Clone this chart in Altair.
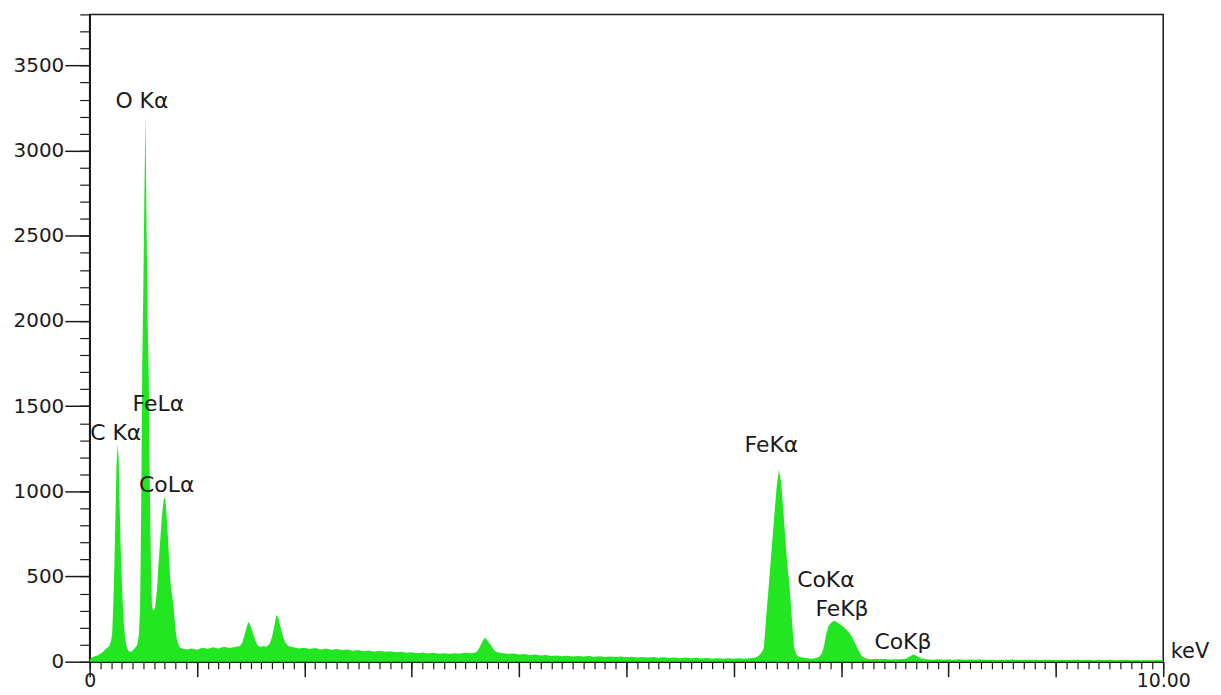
import altair as alt
import pandas as pd

# ---- spectrum (energy in keV, counts) ----
energy = [
    0.00, 0.01, 0.02, 0.03, 0.04, 0.05, 0.06, 0.07, 0.08, 0.09,
    0.10, 0.11, 0.12, 0.13, 0.14, 0.15, 0.16, 0.17, 0.18, 0.19,
    0.20, 0.21, 0.22, 0.23, 0.24, 0.25, 0.26, 0.27, 0.28, 0.29,
    0.30, 0.31, 0.32, 0.33, 0.34, 0.35, 0.36, 0.37, 0.38, 0.39,
    0.40, 0.41, 0.42, 0.43, 0.44, 0.45, 0.46, 0.47, 0.48, 0.49,
    0.50, 0.51, 0.52, 0.53, 0.54, 0.55, 0.56, 0.57, 0.58, 0.59,
    0.60, 0.61, 0.62, 0.63, 0.64, 0.65, 0.66, 0.67, 0.68, 0.69,
    0.70, 0.71, 0.72, 0.73, 0.74, 0.75, 0.76, 0.77, 0.78, 0.79,
    0.80, 0.81, 0.82, 0.83, 0.84, 0.85,
    0.90, 0.95, 1.00, 1.05, 1.10, 1.15, 1.20, 1.25, 1.30, 1.35,
    1.40, 1.42, 1.44, 1.46, 1.48, 1.50, 1.52, 1.54, 1.56, 1.58,
    1.60, 1.62, 1.64, 1.66, 1.68, 1.70, 1.72, 1.74, 1.76, 1.78,
    1.80, 1.82, 1.84, 1.86,
    1.90, 1.95, 2.00, 2.05, 2.10, 2.15, 2.20, 2.25, 2.30, 2.35,
    2.40, 2.45, 2.50, 2.55, 2.60, 2.65, 2.70, 2.75, 2.80, 2.85,
    2.90, 2.95, 3.00, 3.05, 3.10, 3.15, 3.20, 3.25, 3.30, 3.35,
    3.40, 3.45, 3.50, 3.55,
    3.60, 3.62, 3.64, 3.66, 3.68, 3.70, 3.72, 3.74, 3.76, 3.78, 3.80,
    3.85, 3.90, 3.95, 4.00, 4.05, 4.10, 4.15, 4.20, 4.25, 4.30,
    4.35, 4.40, 4.45, 4.50, 4.55, 4.60, 4.65, 4.70, 4.75, 4.80,
    4.85, 4.90, 4.95, 5.00, 5.05, 5.10, 5.15, 5.20, 5.25, 5.30,
    5.35, 5.40, 5.45, 5.50, 5.55, 5.60, 5.65, 5.70, 5.75, 5.80,
    5.85, 5.90, 5.95, 6.00, 6.05, 6.10, 6.15,
    6.20, 6.22, 6.24, 6.26, 6.28, 6.30, 6.32, 6.34, 6.36, 6.38,
    6.40, 6.42, 6.44, 6.46, 6.48, 6.50, 6.52, 6.54, 6.56, 6.58,
    6.60, 6.64, 6.68, 6.72, 6.76,
    6.80, 6.82, 6.84, 6.86, 6.88, 6.90, 6.92, 6.94, 6.96, 6.98,
    7.00, 7.02, 7.04, 7.06, 7.08, 7.10, 7.12, 7.14, 7.16, 7.18,
    7.20, 7.24, 7.28, 7.32, 7.36, 7.40, 7.45, 7.50, 7.55,
    7.60, 7.64, 7.67, 7.70, 7.74,
    7.80, 7.85, 7.90, 7.95, 8.00, 8.05, 8.10, 8.15, 8.20, 8.25,
    8.30, 8.35, 8.40, 8.45, 8.50, 8.55, 8.60, 8.65, 8.70, 8.75,
    8.80, 8.85, 8.90, 8.95, 9.00, 9.05, 9.10, 9.15, 9.20, 9.25,
    9.30, 9.35, 9.40, 9.45, 9.50, 9.55, 9.60, 9.65, 9.70, 9.75,
    9.80, 9.85, 9.90, 9.95, 10.00,
]
counts = [
    12, 18, 24, 27, 30, 32, 35, 37, 40, 44,
    47, 51, 56, 62, 68, 74, 80, 85, 90, 105,
    125, 170, 330, 560, 850, 1150, 1275, 1200, 900, 650,
    460, 320, 210, 140, 100, 80, 66, 60, 58, 60,
    66, 72, 80, 88, 95, 120, 170, 320, 900, 1750,
    2200, 2750, 3210, 2550, 2000, 1700, 1050, 600, 330, 300,
    305, 320, 380, 450, 560, 650, 740, 830, 900, 950,
    965, 920, 820, 720, 600, 490, 420, 380, 330, 260,
    190, 140, 115, 95, 85, 80,
    72, 78, 70, 82, 76, 85, 78, 88, 80, 86,
    92, 110, 150, 200, 235, 210, 170, 130, 100, 90,
    88, 92, 88, 95, 110, 150, 210, 275, 250, 200,
    150, 115, 100, 90,
    85, 78, 82, 75, 80, 72, 78, 70, 74, 68,
    72, 65, 68, 62, 66, 60, 64, 58, 61, 55,
    58, 52, 56, 50, 54, 48, 52, 47, 50, 46,
    50, 48, 52, 50,
    55, 70, 95, 120, 140, 130, 110, 95, 75, 60, 55,
    50, 46, 48, 42, 45, 40, 42, 36, 39, 34,
    37, 32, 35, 31, 34, 30, 33, 29, 32, 28,
    31, 27, 30, 26, 29, 25, 28, 24, 27, 23,
    26, 22, 25, 21, 24, 20, 23, 19, 22, 18,
    21, 18, 20, 17, 20, 18, 21,
    25, 30, 40, 55, 80, 250, 400, 560, 720, 880,
    1030, 1126, 1060, 900, 720, 560, 440, 260, 90, 45,
    30, 24, 20, 18, 20,
    30, 50, 90, 160, 205, 225, 235, 240, 232, 225,
    215, 205, 195, 180, 165, 145, 120, 95, 70, 45,
    28, 18, 15, 17, 14, 16, 13, 15, 14,
    18, 30, 42, 35, 20,
    15, 12, 14, 11, 13, 12, 14, 11, 13, 12,
    13, 11, 12, 10, 12, 11, 13, 10, 12, 11,
    12, 10, 12, 11, 10, 12, 10, 11, 12, 10,
    11, 9, 11, 10, 11, 9, 10, 11, 9, 10,
    9, 10, 9, 10, 9,
]

# ---- peak annotations ----
label_text = ["O Kα", "FeLα", "C Kα", "CoLα", "FeKα", "CoKα", "FeKβ", "CoKβ"]
label_x = [0.24, 0.40, 0.005, 0.46, 6.10, 6.59, 6.76, 7.31]
label_y = [3290, 1510, 1340, 1040, 1272, 480, 310, 118]

# ---- axis tick values ----
x_minor = [i / 10 for i in range(0, 101)]
x_major = list(range(0, 11))
y_minor = list(range(0, 3801, 100))
y_major = list(range(0, 3501, 500))

spec = pd.DataFrame({"e": energy, "c": counts})
labels = pd.DataFrame({"e": label_x, "c": label_y, "t": label_text})

FONT = "DejaVu Sans"
INK = "#1a1a1a"
xscale = alt.Scale(domain=[0, 10], nice=False, zero=False)
yscale = alt.Scale(domain=[0, 3800], nice=False)

area = alt.Chart(spec).mark_area(color="#22E622", interpolate="linear").encode(
    x=alt.X("e:Q", scale=xscale,
            axis=alt.Axis(orient="bottom", values=x_minor, tickSize=7, labels=False,
                          grid=False, domainColor=INK, domainWidth=1.5,
                          tickColor=INK, tickWidth=1.2,
                          title="keV", titleFont=FONT, titleFontSize=21,
                          titleFontWeight="normal", titleColor=INK,
                          titleX=1085, titleY=-10, titleAlign="left",
                          titleBaseline="middle", titleAngle=0)),
    y=alt.Y("c:Q", scale=yscale,
            axis=alt.Axis(orient="left", values=y_minor, tickSize=10, labels=False,
                          grid=False, domainColor=INK, domainWidth=1.5,
                          tickColor=INK, tickWidth=1.2, title=None)),
)

text = alt.Chart(labels).mark_text(
    font=FONT, fontSize=22, color=INK, align="left", baseline="middle"
).encode(
    x=alt.X("e:Q", scale=xscale,
            axis=alt.Axis(orient="bottom", values=x_major, tickSize=15,
                          labelExpr="datum.value == 0 ? '0' : (datum.value == 10 ? '10.00' : '')",
                          labelFont=FONT, labelFontSize=19, labelColor=INK,
                          labelPadding=-5, labelOverlap=False, labelFlush=False,
                          grid=False, domainColor=INK, domainWidth=1.5,
                          tickColor=INK, tickWidth=1.5, title=None)),
    y=alt.Y("c:Q", scale=yscale,
            axis=alt.Axis(orient="left", values=y_major, tickSize=25, format="d",
                          labelFont=FONT, labelFontSize=20, labelColor=INK,
                          labelPadding=1, labelOverlap=False, grid=False,
                          domainColor=INK, domainWidth=1.5,
                          tickColor=INK, tickWidth=1.5, title=None)),
    text="t:N",
)

chart = alt.layer(area, text).resolve_axis(x="independent", y="independent").properties(
    width=1078, height=650,
    autosize=alt.AutoSizeParams(type="none"),
    padding={"left": 82, "top": 5, "right": 50, "bottom": 30},
    background="white",
).configure_view(stroke=INK, strokeWidth=1.5)

chart.save("out.html", embed_options={"renderer": "svg", "actions": False})
